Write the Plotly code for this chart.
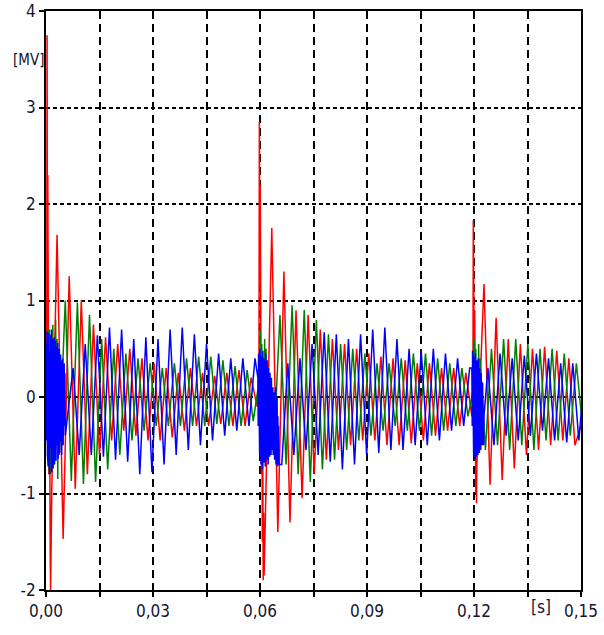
import numpy as np
import plotly.graph_objects as go

# ---- data (MV) ----
# fine-sampled transient bursts and half-period-sampled ringing segments
H = 0.0017  # half period of the ringing (s)

red_b1 = [0.0, 3.75, 1.1, 2.3, -0.3, 1.7, -0.8, 0.7, -1.3, -0.2, -1.7, -2.0, -1.4, -1.95, -1.0]
red_r1 = [1.68, -1.47, 1.25, -0.95, 1.0, -0.8, 0.75, -0.6, 0.62, -0.45, 0.55, -0.35, 0.5, -0.4,
          0.4, -0.45, 0.35, -0.45, 0.3, -0.42, 0.25, -0.35, 0.3, -0.3, 0.25, -0.3, 0.22, -0.28,
          0.25, -0.3, 0.28, -0.3, 0.2, -0.1]
red_b2 = [0.1, 2.85, 1.5, 2.2, 0.0, 1.2, -0.8, 0.3, -1.5, -0.6, -1.9, -1.2, -1.85]
red_r2 = [1.75, -1.4, 1.3, -1.3, 0.9, -1.05, 0.85, -0.8, 0.7, -0.65, 0.6, -0.55, 0.55, -0.5,
          0.5, -0.45, 0.45, -0.45, 0.42, -0.5, 0.4, -0.5, 0.38, -0.48, 0.35, -0.45, 0.35, -0.4,
          0.3, -0.35, 0.3, -0.3, 0.25, -0.2]
red_b3 = [0.0, 1.83, 0.9, 1.5, 0.2, 0.9, -0.4, 0.3, -1.0, -0.5, -1.1, -0.7]
red_r3 = [1.17, -0.91, 0.82, -0.86, 0.6, -0.74, 0.55, -0.6, 0.5, -0.55, 0.52, -0.5, 0.48, -0.45,
          0.4, -0.5, -0.3]

green_b1 = [0.0, 0.5, -0.6, 0.7, -0.75, 0.4, -0.8, 0.65, -0.5, 0.75, -0.7, 0.5, -0.6, 0.8, -0.3,
            0.6, -0.85, 0.3, -0.6]
green_r1 = [1.0, -0.87, 0.98, -0.9, 0.85, -0.88, 0.6, -0.75, 0.5, -0.6, 0.45, -0.45, 0.4, -0.35,
            0.35, -0.3, 0.3, -0.3, 0.35, -0.3, 0.4, -0.3, 0.42, -0.3, 0.42, -0.28, 0.38, -0.3,
            0.32, -0.3, 0.28, -0.25]
green_b2 = [0.2, 0.7, -0.4, 0.55, -0.6, 0.4, -0.5, 0.6, -0.3, 0.5, -0.55, 0.3]
green_r2 = [-0.5, 0.85, -0.7, 0.95, -0.8, 0.9, -0.88, 0.8, -0.75, 0.65, -0.65, 0.55, -0.55, 0.5,
            -0.45, 0.45, -0.4, 0.35, -0.35, 0.35, -0.3, 0.4, -0.35, 0.45, -0.35, 0.45, -0.4, 0.4,
            -0.35, 0.35, -0.3, 0.3, -0.2]
green_b3 = [0.1, 0.6, -0.4, 0.5, -0.6, 0.3, -0.5, 0.55, -0.3, 0.4]
green_r3 = [-0.55, 0.5, -0.5, 0.6, -0.55, 0.6, -0.5, 0.55, -0.55, 0.5, -0.45, 0.5, -0.45, 0.45,
            -0.4, 0.35, -0.3]

blue_b1 = [0.0, 0.55, -0.45, 0.68, -0.6, 0.5, -0.72, 0.66, -0.58, 0.48, -0.8, 0.62, -0.7, 0.64,
           -0.52, 0.7, -0.78, 0.42, -0.66, 0.6, -0.74, 0.54, -0.6, 0.62, -0.7, 0.5, -0.56, 0.58,
           -0.66, 0.46, -0.62, 0.52, -0.5, 0.56, -0.64, 0.4, -0.48, 0.5, -0.58, 0.36, -0.52, 0.44,
           -0.46, 0.38, -0.6, 0.3, -0.42, 0.4, -0.5, 0.2, -0.45, 0.35, -0.3, 0.25, -0.4]
blue_r1 = [0.3, -0.6, 0.55, -0.6, 0.64, -0.62, 0.72, -0.65, 0.7, -0.67, 0.6, -0.8, 0.62, -0.78,
           0.6, -0.7, 0.7, -0.6, 0.72, -0.55, 0.65, -0.5, 0.55, -0.45, 0.45, -0.4, 0.4, -0.35,
           0.4, -0.3, 0.4]
blue_b2 = [0.2, -0.3, 0.45, -0.5, 0.3, -0.6, 0.5, -0.4, 0.35, -0.7, 0.42, -0.55, 0.3, -0.75,
           0.48, -0.5, 0.25, -0.68, 0.4, -0.6, 0.32, -0.72, 0.45, -0.48, 0.2, -0.65, 0.38, -0.55,
           0.28, -0.7, 0.3, -0.5, 0.15, -0.62, 0.25, -0.45, 0.1, -0.6, 0.2, -0.5, 0.0, -0.55,
           0.1, -0.6, -0.1, -0.5, 0.05, -0.65, -0.05, -0.55, 0.1, -0.7, -0.1, -0.6, 0.0, -0.72,
           -0.2, -0.6, -0.3, -0.7]
blue_r2 = [-0.7, 0.35, -0.6, 0.4, -0.55, 0.55, -0.6, 0.67, -0.67, 0.65, -0.75, 0.6, -0.7, 0.65,
           -0.6, 0.7, -0.58, 0.72, -0.55, 0.6, -0.55, 0.5, -0.5, 0.48, -0.5, 0.5, -0.45, 0.45,
           -0.35, 0.4, -0.3, 0.3]
blue_b3 = [0.3, -0.3, 0.48, -0.45, 0.35, -0.6, 0.42, -0.5, 0.25, -0.65, 0.45, -0.4, 0.3, -0.62,
           0.38, -0.55, 0.2, -0.6, 0.4, -0.45, 0.15, -0.58, 0.3, -0.5, 0.1, -0.55, 0.25, -0.4,
           0.05, -0.5, 0.15, -0.45, 0.0, -0.5, -0.2]
blue_r3 = [0.3, -0.5, 0.45, -0.4, 0.4, -0.45, 0.43, -0.4, 0.45, -0.35, 0.4, -0.45, 0.35, -0.47,
           0.35, -0.45, 0.3]

x_tick_vals = [0.0, 0.015, 0.03, 0.045, 0.06, 0.075, 0.09, 0.105, 0.12, 0.135, 0.15]
x_tick_text = ["0,00", "", "0,03", "", "0,06", "", "0,09", "", "0,12", "", "0,15"]
y_tick_vals = [-2, -1, 0, 1, 2, 3, 4]
y_tick_text = ["-2", "-1", "0", "1", "2", "3", "4"]

# segment layout: (start time, sample step, values)
red_segments = [(0.0002, 0.0001, red_b1), (0.0031, H, red_r1), (0.0597, 0.00012, red_b2),
                (0.0633, H, red_r2), (0.1197, 0.0001, red_b3), (0.1228, H, red_r3)]
green_segments = [(0.0001, 0.0002, green_b1), (0.0054, H, green_r1), (0.0599, 0.0002, green_b2),
                  (0.0639, H, green_r2), (0.1199, 0.0002, green_b3), (0.1232, H, green_r3)]
blue_segments = [(0.0, 0.0001, blue_b1), (0.0076, H, blue_r1), (0.0594, 0.0001, blue_b2),
                 (0.0661, H, blue_r2), (0.1194, 0.0001, blue_b3), (0.1239, H, blue_r3)]


def build(segments):
    xs, ys = [], []
    for start, step, vals in segments:
        xs.extend(start + step * np.arange(len(vals)))
        ys.extend(vals)
    return np.array(xs), np.array(ys)


fig = go.Figure()
for segs, col in [(red_segments, "#ff0000"), (green_segments, "#008000"), (blue_segments, "#0000ff")]:
    x, y = build(segs)
    fig.add_trace(go.Scatter(x=x, y=y, mode="lines", line=dict(color=col, width=1.5),
                             showlegend=False, hoverinfo="skip"))

font_family = "Liberation Sans Narrow, Arial Narrow, DejaVu Sans Condensed, sans-serif"
txt_col = "#15152e"

fig.update_layout(
    width=604, height=635,
    margin=dict(l=46, r=23, t=11, b=45, autoexpand=False),
    paper_bgcolor="white", plot_bgcolor="white",
    font=dict(family=font_family, size=17, color=txt_col),
    annotations=[
        dict(text="[MV]", xref="paper", yref="paper", x=-0.032, y=0.915, showarrow=False,
             xanchor="center", yanchor="middle", font=dict(size=15)),
        dict(text="[s]", xref="paper", yref="paper", x=0.925, y=-0.03, showarrow=False,
             xanchor="center", yanchor="middle", font=dict(size=17)),
    ],
)
fig.update_xaxes(
    range=[0, 0.15], tickvals=x_tick_vals, ticktext=x_tick_text,
    showgrid=True, gridcolor="black", gridwidth=1.5, griddash="8px,5px",
    showline=True, linecolor="black", linewidth=2, mirror=True,
    ticks="outside", ticklen=5, tickcolor="black", tickwidth=1.5,
    zeroline=False, tickfont=dict(size=17), ticklabeloverflow="allow", automargin=False,
)
fig.update_yaxes(
    range=[-2, 4], tickvals=y_tick_vals, ticktext=y_tick_text,
    showgrid=True, gridcolor="black", gridwidth=1.5, griddash="4px,3px",
    showline=True, linecolor="black", linewidth=1.5, mirror=True,
    ticks="outside", ticklen=5, tickcolor="black", tickwidth=1.5,
    zeroline=False, tickfont=dict(size=17), ticklabeloverflow="allow", automargin=False,
)

fig.write_html("out.html")
